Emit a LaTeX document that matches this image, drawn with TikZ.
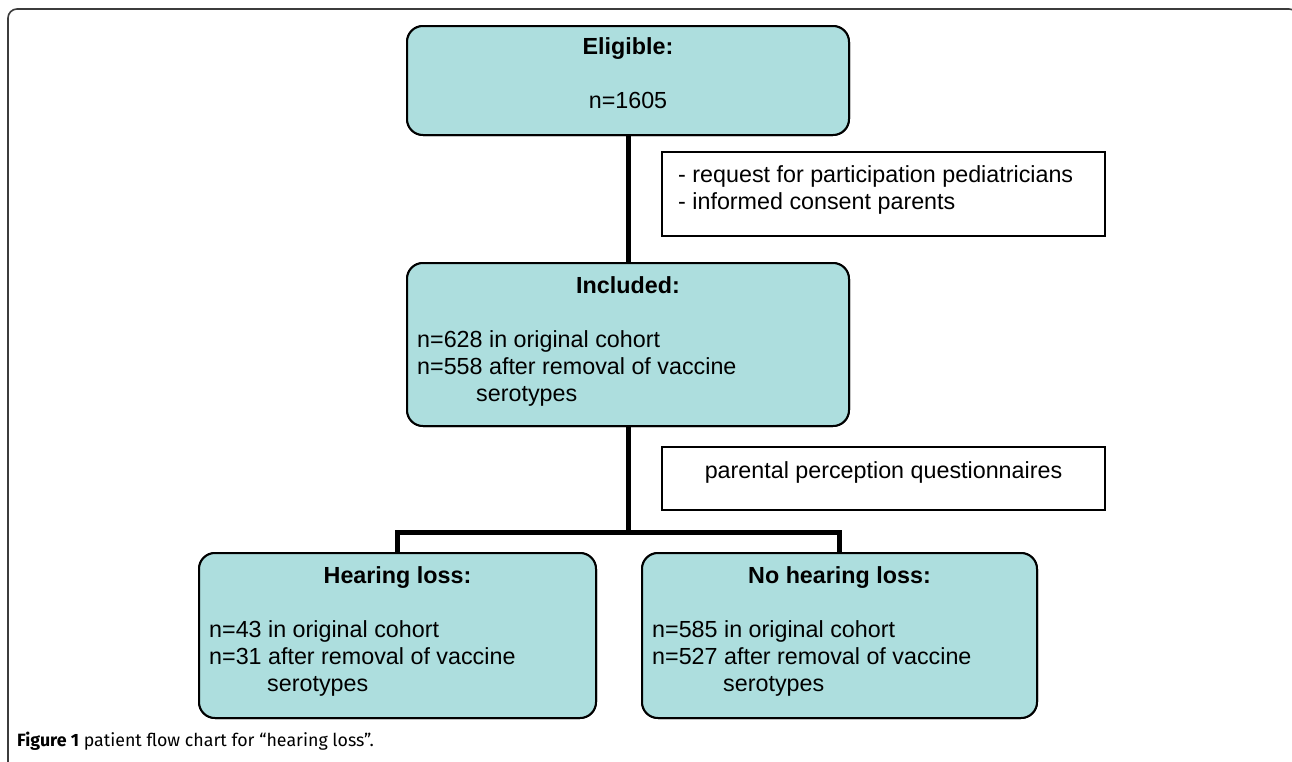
\documentclass[tikz,border=0pt]{standalone}
\usepackage{fontspec}
\setmainfont{Liberation Sans}
\newfontfamily\capfont{Fira Sans}
\definecolor{boxteal}{RGB}{173,222,222}
\definecolor{framegray}{RGB}{60,60,60}
\begin{document}
\begin{tikzpicture}[x=1pt,y=-1pt,
  tealbox/.style={draw=black, line width=2pt, fill=boxteal, rounded corners=16pt, inner sep=0pt},
  notebox/.style={draw=black, line width=1.8pt, fill=white, inner sep=0pt},
  conn/.style={draw=black, line width=5pt, line join=miter},
  txt/.style={inner sep=0pt, font=\fontsize{23.3}{27}\selectfont},
  ttl/.style={txt, font=\fontsize{23.3}{27}\selectfont\bfseries, anchor=base},
  line/.style={txt, anchor=base west}]
\useasboundingbox (0,0) rectangle (1292,761);
\clip (0,0) rectangle (1292,761);
% outer frame
\draw[framegray, line width=1.6pt, rounded corners=9pt] (8,770) -- (8,9) -- (1298,9) -- (1298,770);

% connector junction
\coordinate (junc) at (628,532);

% boxes (drawn first for anchors)
\node[tealbox, minimum width=442pt, minimum height=109pt] (elig) at (628,80.5) {};
\node[tealbox, minimum width=442pt, minimum height=163pt] (incl) at (628,344.5) {};
\node[notebox, minimum width=443pt, minimum height=84pt] (cons) at (883.5,194) {};
\node[notebox, minimum width=443pt, minimum height=63pt] (quest) at (883.5,478.5) {};
\node[tealbox, minimum width=397pt, minimum height=165pt] (hl) at (397.5,635.5) {};
\node[tealbox, minimum width=395pt, minimum height=165pt] (nhl) at (839.5,635.5) {};

% connectors
\draw[conn] (elig.south) -- (incl.north);
\draw[conn] (incl.south) -- (junc);
\draw[conn] (hl.north) |- (junc) -| (nhl.north);

% redraw boxes on top of connector ends
\node[tealbox, minimum width=442pt, minimum height=109pt] (eligF) at (elig) {};
\node[tealbox, minimum width=442pt, minimum height=163pt] (inclF) at (incl) {};
\node[tealbox, minimum width=397pt, minimum height=165pt] (hlF) at (hl) {};
\node[tealbox, minimum width=395pt, minimum height=165pt] (nhlF) at (nhl) {};

% texts
\node[ttl] (eligT) at (628,54) {Eligible:};
\node[txt, anchor=base] (eligN) at (628,108) {n=1605};

\node[ttl] (inclT) at (628,293) {Included:};
\node[line] (incl1) at (417,347) {n=628 in original cohort};
\node[line] (incl2) at (417,374) {n=558 after removal of vaccine};
\node[line] (incl3) at (476,401) {serotypes};

\node[line] (cons1) at (678,182) {- request for participation pediatricians};
\node[line] (cons2) at (678,209) {- informed consent parents};

\node[txt, anchor=base] (questT) at (883.5,478) {parental perception questionnaires};

\node[ttl] (hlT) at (397.5,583) {Hearing loss:};
\node[line] (hl1) at (209,637) {n=43 in original cohort};
\node[line] (hl2) at (209,664) {n=31 after removal of vaccine};
\node[line] (hl3) at (267,691) {serotypes};

\node[ttl] (nhlT) at (839.5,583) {No hearing loss:};
\node[line] (nhl1) at (652,637) {n=585 in original cohort};
\node[line] (nhl2) at (652,664) {n=527 after removal of vaccine};
\node[line] (nhl3) at (723,691) {serotypes};

% caption
\node[inner sep=0pt, anchor=base west, font=\capfont\fontsize{17.8}{20}\selectfont] (cap) at (17,746) {\textbf{Figure 1} patient flow chart for “hearing loss”.};
\end{tikzpicture}
\end{document}
